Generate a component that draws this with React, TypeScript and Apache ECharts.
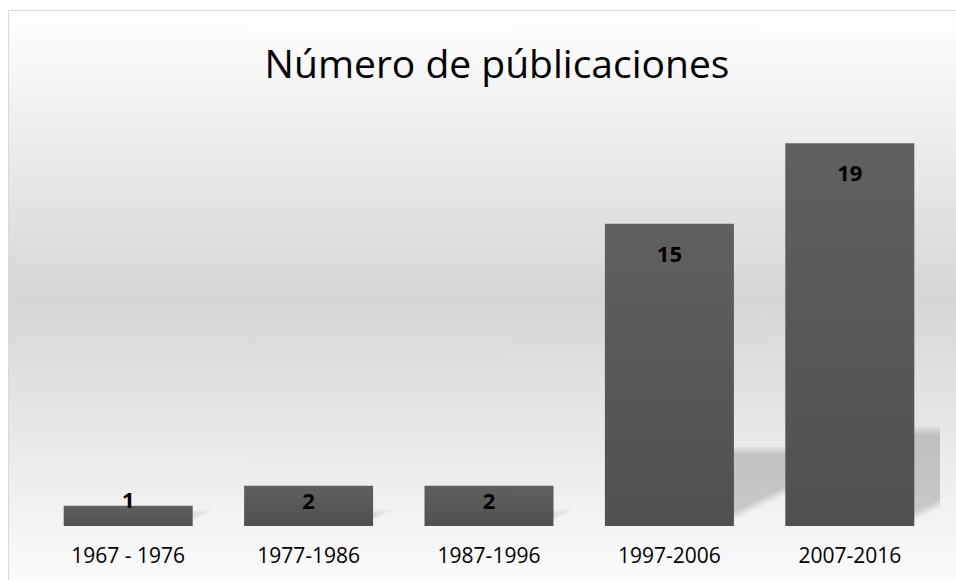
import React, { useEffect, useRef } from "react";
import * as echarts from "echarts";

const titleText = "Número de públicaciones";
const categories = ["1967 - 1976", "1977-1986", "1987-1996", "1997-2006", "2007-2016"];
const publications = [1, 2, 2, 15, 19];

const FONT = "'Open Sans', 'Noto Sans', sans-serif";

function labelDistance(v: number, max: number): number {
  const ratio = v / max;
  if (ratio > 0.3) return 18;
  if (ratio > 0.08) return 3;
  return -18;
}

function shadowPoints(R: number, baseY: number, h: number, d: number): number[][] {
  const hs = Math.max(h * 0.25, 12);
  const slope = 0.5;
  const W = 70 + d;
  const y0 = baseY - 6 + d;
  const yTop = baseY - hs - d;
  const xL = R - 8;
  const xMeet = xL + (y0 - yTop) / slope;
  if (xMeet < R + W) {
    return [
      [xL, y0],
      [xMeet, yTop],
      [xL, yTop],
    ];
  }
  return [
    [xL, y0],
    [R + W, y0 - slope * (R + W - xL)],
    [R + W, yTop],
    [xL, yTop],
  ];
}

export default function App() {
  const ref = useRef<HTMLDivElement>(null);
  useEffect(() => {
    if (!ref.current) return;
    const chart = echarts.init(ref.current, undefined, { renderer: "svg" });
    const maxV = Math.max(...publications);
    const option: any = {
      animation: false,
      backgroundColor: "#ffffff",
      graphic: [
        {
          type: "rect",
          z: -100,
          shape: { x: 8.5, y: 10.5, width: 1000, height: 600 },
          style: {
            fill: new echarts.graphic.LinearGradient(0, 0, 0, 1, [
              { offset: 0, color: "#ffffff" },
              { offset: 0.48, color: "#d6d6d6" },
              { offset: 1, color: "#ffffff" },
            ]),
            stroke: "#d9d9d9",
            lineWidth: 1,
          },
        },
        {
          type: "text",
          z: 100,
          x: 497,
          y: 62,
          style: {
            text: titleText,
            fontFamily: FONT,
            fontSize: 39,
            fill: "#000000",
            textAlign: "center",
            textVerticalAlign: "middle",
          },
        },
      ],
      grid: { left: 38, right: 16, top: 123, bottom: 54, containLabel: false },
      xAxis: {
        type: "category",
        data: categories,
        axisLine: { show: false },
        axisTick: { show: false },
        axisLabel: { fontFamily: FONT, fontSize: 21, color: "#000000", margin: 18 },
        splitLine: { show: false },
      },
      yAxis: {
        type: "value",
        min: 0,
        max: 20,
        show: false,
        splitLine: { show: false },
      },
      series: [
        {
          type: "custom",
          z: 1,
          clip: true,
          data: publications.map((v, i) => [i, v]),
          encode: { x: 0, y: 1 },
          renderItem: (params: any, api: any) => {
            const idx = api.value(0);
            const v = api.value(1);
            const base = api.coord([idx, 0]);
            const top = api.coord([idx, v]);
            const bw = api.size([1, 0])[0] * 0.715;
            const R = base[0] + bw / 2;
            const h = base[1] - top[1];
            const layers = [-4, -2, 0, 2, 4];
            return {
              type: "group",
              children: layers.map((d) => ({
                type: "polygon",
                shape: { points: shadowPoints(R, base[1], h, d) },
                style: { fill: "rgba(0,0,0,0.036)" },
              })),
            };
          },
        },
        {
          type: "bar",
          z: 2,
          barWidth: "71.5%",
          itemStyle: {
            color: new echarts.graphic.LinearGradient(0, 0, 0, 1, [
              { offset: 0, color: "#606060" },
              { offset: 1, color: "#505050" },
            ]),
          },
          label: {
            show: true,
            position: "insideTop",
            fontFamily: FONT,
            fontWeight: "bold",
            fontSize: 22,
            color: "#000000",
          },
          data: publications.map((v) => ({
            value: v,
            label: { distance: labelDistance(v, maxV) },
          })),
        },
      ],
    };
    chart.setOption(option);
    return () => chart.dispose();
  }, []);
  return (
    <div
      ref={ref}
      style={{ position: "fixed", left: 0, top: 0, width: 956, height: 580 }}
    />
  );
}
